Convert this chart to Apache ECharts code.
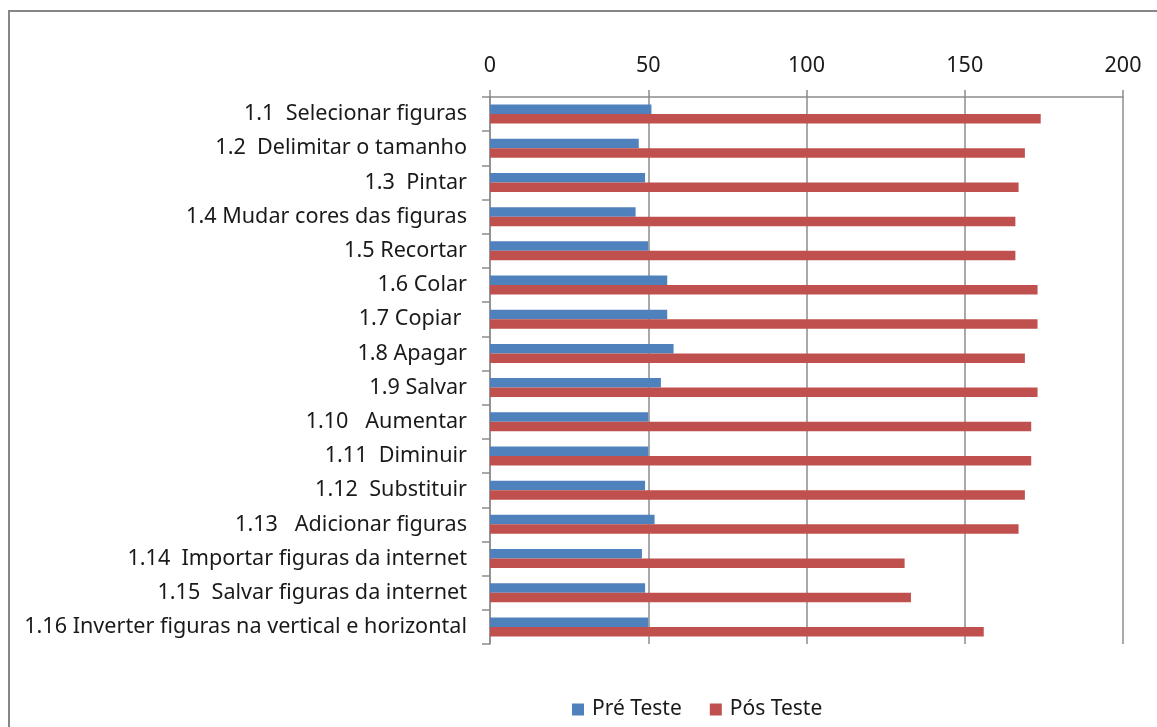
<!DOCTYPE html>
<html>
<head>
<meta charset="utf-8">
<script src="https://cdn.jsdelivr.net/npm/echarts@6/dist/echarts.min.js"></script>
<style>
html, body { margin: 0; padding: 0; background: #fff; }
#chart { width: 1157px; height: 727px; }
</style>
</head>
<body>
<div id="chart"></div>
<script>
// categories, top to bottom
var categories = [
    '1.1  Selecionar figuras',
    '1.2  Delimitar o tamanho',
    '1.3  Pintar',
    '1.4 Mudar cores das figuras',
    '1.5 Recortar',
    '1.6 Colar',
    '1.7 Copiar ',
    '1.8 Apagar',
    '1.9 Salvar',
    '1.10   Aumentar',
    '1.11  Diminuir',
    '1.12  Substituir',
    '1.13   Adicionar figuras',
    '1.14  Importar figuras da internet',
    '1.15  Salvar figuras da internet',
    '1.16 Inverter figuras na vertical e horizontal'
];
var preTeste = [51, 47, 49, 46, 50, 56, 56, 58, 54, 50, 50, 49, 52, 48, 49, 50];
var posTeste = [174, 169, 167, 166, 166, 173, 173, 169, 173, 171, 171, 169, 167, 131, 133, 156];
var seriesNames = ['Pré Teste', 'Pós Teste'];
var valueTicks = [0, 200, 50]; // min, max, interval

var fontFam = '"Noto Sans", "DejaVu Sans", sans-serif';
var myChart = echarts.init(document.getElementById('chart'));

var option = {
    animation: false,
    textStyle: { fontFamily: fontFam },
    graphic: [{
        type: 'rect',
        shape: { x: 9, y: 11, width: 1300, height: 900 },
        style: { fill: 'none', stroke: '#868686', lineWidth: 2 },
        silent: true
    }],
    legend: {
        data: seriesNames,
        left: 567,
        top: 694,
        itemWidth: 12,
        itemHeight: 12,
        itemGap: 28,
        icon: 'rect',
        textStyle: { fontSize: 21, color: '#1a1a1a', fontFamily: fontFam, padding: [0, 0, 0, 3] }
    },
    grid: {
        left: 490,
        right: 34,
        top: 97,
        bottom: 83,
        containLabel: false
    },
    xAxis: {
        type: 'value',
        position: 'top',
        min: valueTicks[0],
        max: valueTicks[1],
        interval: valueTicks[2],
        axisLine: { show: true, lineStyle: { color: '#8c8c8c', width: 1.5 } },
        axisTick: { show: true, length: 7, inside: false, lineStyle: { color: '#8c8c8c', width: 1.5 } },
        axisLabel: { fontSize: 21.5, color: '#1a1a1a', margin: 20, fontFamily: fontFam },
        splitLine: { show: true, lineStyle: { color: '#8c8c8c', width: 1.5 } }
    },
    yAxis: {
        type: 'category',
        inverse: true,
        data: categories,
        axisLine: { show: true, lineStyle: { color: '#8c8c8c', width: 1.5 } },
        axisTick: { show: true, length: 8, lineStyle: { color: '#8c8c8c', width: 1.5 } },
        axisLabel: { fontSize: 21.6, color: '#1a1a1a', margin: 23, padding: [5, 0, 0, 0], fontFamily: fontFam },
        splitLine: { show: false }
    },
    series: [
        {
            name: seriesNames[0],
            type: 'bar',
            data: preTeste,
            barWidth: 9.5,
            barGap: '0%',
            itemStyle: { color: '#4F81BD' }
        },
        {
            name: seriesNames[1],
            type: 'bar',
            data: posTeste,
            barWidth: 9.5,
            barGap: '0%',
            itemStyle: { color: '#C0504D' }
        }
    ]
};
myChart.setOption(option);
</script>
</body>
</html>
